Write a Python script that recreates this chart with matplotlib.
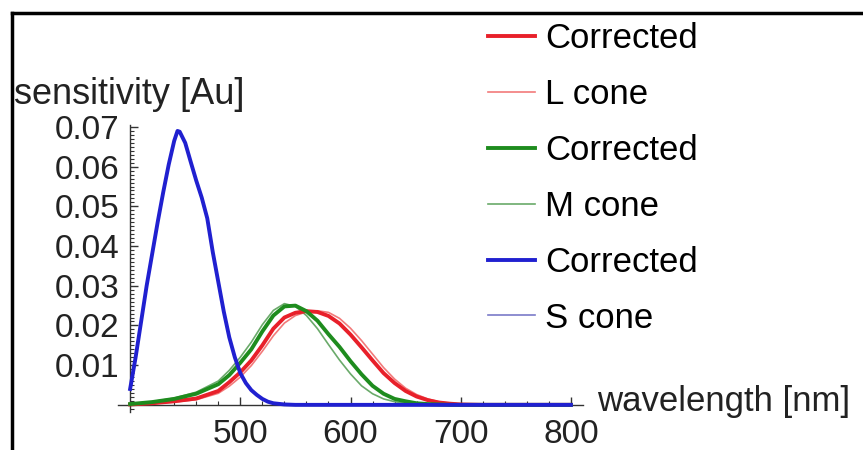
import matplotlib
matplotlib.use("Agg")
import matplotlib.pyplot as plt
from matplotlib.lines import Line2D
from matplotlib.ticker import MultipleLocator, FixedLocator

plt.rcParams['font.family'] = ['Liberation Sans', 'DejaVu Sans']

# Data
wl = [400, 420, 440, 460, 480, 490, 500, 510, 520, 530, 540, 550, 560, 570,
      580, 590, 600, 610, 620, 630, 640, 650, 660, 670, 680, 690, 700, 720, 800]

red_corr = [0.0001, 0.0004, 0.0009, 0.0016, 0.0035, 0.0057, 0.0082, 0.0112, 0.0150,
            0.0192, 0.0220, 0.0232, 0.0236, 0.0234, 0.0224, 0.0205, 0.0177, 0.0145,
            0.0112, 0.0080, 0.0055, 0.0035, 0.0021, 0.0012, 0.0006, 0.0003, 0.0001,
            0.0, 0.0]
l_cone = [0.0001, 0.0003, 0.0007, 0.0013, 0.0029, 0.0047, 0.0070, 0.0099, 0.0135,
          0.0174, 0.0206, 0.0225, 0.0234, 0.0237, 0.0233, 0.0218, 0.0193, 0.0162,
          0.0128, 0.0094, 0.0065, 0.0042, 0.0026, 0.0015, 0.0008, 0.0004, 0.0002,
          0.0, 0.0]
green_corr = [0.0002, 0.0007, 0.0015, 0.0028, 0.0052, 0.0075, 0.0106, 0.0140, 0.0185,
              0.0225, 0.0248, 0.0250, 0.0236, 0.0212, 0.0178, 0.0146, 0.0110, 0.0077,
              0.0048, 0.0028, 0.0015, 0.0009, 0.0004, 0.0002, 0.0001, 0.0, 0.0,
              0.0, 0.0]
m_cone = [0.0002, 0.0008, 0.0017, 0.0032, 0.0060, 0.0087, 0.0120, 0.0158, 0.0202,
          0.0238, 0.0255, 0.0248, 0.0225, 0.0192, 0.0152, 0.0113, 0.0078, 0.0048,
          0.0028, 0.0015, 0.0008, 0.0004, 0.0002, 0.0001, 0.0, 0.0, 0.0,
          0.0, 0.0]

wl_s = [400, 405, 410, 415, 420, 425, 430, 435, 440, 443, 445, 450, 455, 460, 465,
        470, 475, 480, 485, 490, 495, 500, 505, 510, 515, 520, 525, 530, 540, 550, 800]
blue_corr = [0.0040, 0.0120, 0.0210, 0.0300, 0.0380, 0.0460, 0.0535, 0.0605, 0.0665,
             0.0690, 0.0688, 0.0660, 0.0612, 0.0565, 0.0522, 0.0470, 0.0385, 0.0310,
             0.0235, 0.0170, 0.0120, 0.0080, 0.0055, 0.0037, 0.0025, 0.0015, 0.0008,
             0.0004, 0.0001, 0.0, 0.0]
s_cone = [0.0042, 0.0122, 0.0212, 0.0301, 0.0381, 0.0461, 0.0536, 0.0606, 0.0666,
          0.0689, 0.0687, 0.0659, 0.0611, 0.0563, 0.0520, 0.0468, 0.0383, 0.0308,
          0.0233, 0.0168, 0.0119, 0.0079, 0.0054, 0.0036, 0.0024, 0.0014, 0.0008,
          0.0004, 0.0001, 0.0, 0.0]

x_major = [500, 600, 700, 800]
y_major = [0.01, 0.02, 0.03, 0.04, 0.05, 0.06, 0.07]

fig = plt.figure(figsize=(8.63, 4.5), dpi=100)
ax = fig.add_axes([118 / 863, 1 - 412 / 450, 465 / 863, 287 / 450])

# thick "Corrected" curves sit on top of the thin cone curves
ax.plot(wl, red_corr, color='#e8202a', lw=2.8, label='Corrected', zorder=3)
ax.plot(wl, l_cone, color='#f27a7a', lw=1.2, label='L cone', zorder=2)
ax.plot(wl, green_corr, color='#1e8c1e', lw=2.8, label='Corrected', zorder=3)
ax.plot(wl, m_cone, color='#6aaa6a', lw=1.2, label='M cone', zorder=2)
ax.plot(wl_s, blue_corr, color='#2020d0', lw=2.8, label='Corrected', zorder=3)
ax.plot(wl_s, s_cone, color='#7a7ac8', lw=1.2, label='S cone', zorder=2)

ax.set_xlim(389, 811)
ax.set_ylim(-0.0018, 0.0705)
ax.spines['left'].set_position(('data', 400))
ax.spines['bottom'].set_position(('data', 0))
ax.spines['top'].set_visible(False)
ax.spines['right'].set_visible(False)
for s in ('left', 'bottom'):
    ax.spines[s].set_color('#333333')
    ax.spines[s].set_linewidth(1.0)
ax.patch.set_alpha(0)

ax.xaxis.set_major_locator(FixedLocator(x_major))
ax.xaxis.set_minor_locator(MultipleLocator(20))
ax.yaxis.set_major_locator(FixedLocator(y_major))
ax.yaxis.set_minor_locator(MultipleLocator(0.001))
ax.set_xticklabels([str(v) for v in x_major])
ax.set_yticklabels(['%.2f' % v for v in y_major])
ax.tick_params(which='both', direction='in', colors='#333333', labelcolor='#222222')
ax.tick_params(which='major', length=6, width=1, labelsize=24)
ax.tick_params(which='minor', length=3, width=0.8)
ax.tick_params(axis='x', which='major', pad=10)
ax.tick_params(axis='y', which='major', pad=8)

fig.text(14 / 863, 1 - 95 / 450, 'sensitivity [Au]', fontsize=26,
         ha='left', va='center', color='#222222')
fig.text(597 / 863, 1 - 401 / 450, 'wavelength [nm]', fontsize=25,
         ha='left', va='center', color='#222222')

fig.legend(loc='upper left', bbox_to_anchor=(488 / 863, 1 - 22 / 450),
           frameon=False, fontsize=25, borderpad=0, borderaxespad=0,
           handlelength=1.35, handletextpad=0.3, labelspacing=0.66)

# frame around the picture (only left and top edges are visible)
fig.add_artist(Line2D([11.5 / 863, 11.5 / 863], [0, 1 - 13 / 450],
                      transform=fig.transFigure, color='black', lw=2.5))
fig.add_artist(Line2D([11.5 / 863, 1], [1 - 13 / 450, 1 - 13 / 450],
                      transform=fig.transFigure, color='black', lw=2.5))

fig.savefig('out.png', dpi=100)
